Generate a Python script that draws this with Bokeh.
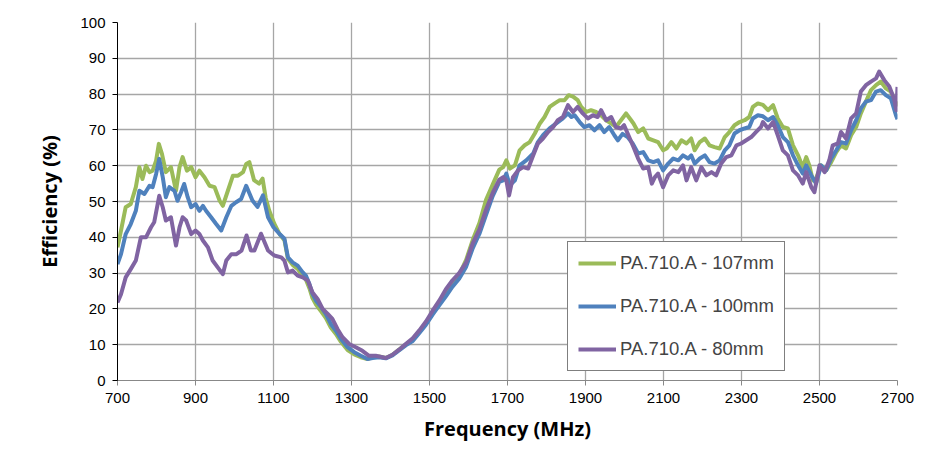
from bokeh.plotting import figure
from bokeh.models import Range1d, FixedTicker, Legend, LegendItem
from bokeh.embed import file_html
from bokeh.resources import INLINE

# ---- data ----
freq_107 = [700, 709, 721, 734, 747, 756, 764, 773, 782, 790, 799, 806, 814, 824, 837, 850, 859, 867, 878, 889,
            900, 910, 923, 936, 949, 962, 970, 983, 996, 1009, 1022, 1030, 1038, 1050, 1063, 1072, 1080, 1089, 1102, 1115,
            1128, 1137, 1149, 1162, 1175, 1183, 1192, 1200, 1209, 1222, 1234, 1247, 1260, 1273, 1290, 1307, 1324, 1341,
            1354, 1371, 1388, 1405, 1422, 1439, 1457, 1474, 1491, 1508, 1525, 1542, 1559, 1576, 1594, 1611, 1628, 1645,
            1662, 1679, 1689, 1697, 1706, 1719, 1731, 1744, 1757, 1770, 1783, 1795, 1808, 1821, 1834, 1846, 1857, 1868,
            1880, 1889, 1902, 1914, 1927, 1940, 1953, 1966, 1978, 1991, 2004, 2017, 2023, 2035, 2048, 2061, 2074, 2086,
            2099, 2108, 2120, 2133, 2146, 2159, 2171, 2180, 2193, 2206, 2218, 2231, 2244, 2257, 2269, 2282, 2295, 2308,
            2320, 2329, 2342, 2355, 2368, 2381, 2393, 2406, 2419, 2432, 2445, 2457, 2466, 2474, 2483, 2491, 2504, 2517,
            2530, 2543, 2555, 2568, 2581, 2594, 2606, 2619, 2632, 2645, 2657, 2670, 2683, 2696, 2700]
eff_107 = [37.2, 41.9, 48.4, 49.3, 54.0, 59.6, 56.3, 60.0, 58.2, 58.6, 61.4, 66.1, 63.3, 58.2, 59.6, 53.0, 59.6, 62.4, 58.6, 59.6,
           56.8, 58.6, 56.8, 54.4, 54.0, 50.2, 48.8, 53.0, 57.2, 57.2, 58.2, 60.5, 61.0, 56.0, 55.0, 56.4, 51.0, 47.5, 43.8, 41.0,
           39.2, 34.0, 32.3, 31.2, 29.2, 28.2, 25.8, 23.0, 21.2, 19.3, 17.5, 14.8, 13.0, 10.8, 8.5, 7.3, 6.5, 6.0,
           6.5, 6.7, 6.3, 7.2, 8.6, 10.0, 11.4, 13.7, 16.1, 18.9, 21.6, 24.4, 27.0, 29.5, 33.7, 39.3, 44.0, 50.5,
           54.7, 58.9, 59.6, 61.5, 59.2, 60.1, 64.3, 65.7, 66.6, 69.0, 71.8, 73.6, 76.4, 77.4, 78.3, 78.3, 79.7, 79.3,
           78.3, 76.4, 75.0, 75.5, 75.0, 74.1, 72.7, 71.8, 70.8, 72.7, 74.6, 72.7, 71.8, 69.4, 70.4, 67.6, 67.1, 66.6,
           64.3, 64.8, 66.6, 64.8, 67.1, 66.2, 67.6, 64.3, 66.6, 67.6, 65.7, 65.2, 64.8, 68.0, 69.4, 71.3, 72.2, 72.7,
           73.6, 76.4, 77.4, 77.0, 75.5, 76.9, 73.2, 70.8, 70.4, 65.7, 62.9, 59.6, 62.4, 60.1, 55.9, 56.4, 60.1, 58.7,
           61.0, 63.8, 65.7, 64.8, 68.5, 70.8, 74.6, 77.9, 81.1, 82.5, 83.5, 81.6, 80.7, 76.9, 78.0]

freq_100 = [700, 709, 721, 734, 747, 756, 769, 782, 790, 799, 807, 816, 824, 833, 846, 854, 863, 871, 880, 889,
            900, 910, 919, 927, 940, 953, 966, 979, 992, 1004, 1017, 1030, 1046, 1059, 1073, 1086, 1100, 1115,
            1128, 1137, 1149, 1162, 1175, 1183, 1192, 1200, 1209, 1222, 1234, 1247, 1260, 1273, 1290, 1307, 1324, 1341,
            1354, 1371, 1388, 1405, 1422, 1439, 1457, 1474, 1491, 1508, 1525, 1542, 1559, 1576, 1594, 1611, 1628, 1645,
            1662, 1679, 1689, 1697, 1706, 1719, 1731, 1748, 1766, 1778, 1791, 1808, 1825, 1842, 1855, 1864, 1872, 1885,
            1897, 1910, 1923, 1936, 1948, 1961, 1974, 1983, 1995, 2008, 2021, 2035, 2048, 2061, 2074, 2086, 2099, 2112,
            2125, 2138, 2150, 2163, 2171, 2180, 2193, 2206, 2218, 2231, 2244, 2257, 2269, 2282, 2295, 2308, 2320, 2329,
            2342, 2355, 2368, 2381, 2393, 2406, 2419, 2432, 2445, 2457, 2466, 2479, 2491, 2504, 2517, 2530, 2543, 2555,
            2568, 2581, 2594, 2606, 2619, 2632, 2645, 2657, 2670, 2683, 2696, 2700]
eff_100 = [32.5, 35.3, 40.9, 43.7, 47.4, 53.0, 52.1, 54.4, 54.0, 57.7, 61.9, 56.8, 51.2, 54.0, 53.0, 50.2, 52.6, 54.9, 51.2, 48.4,
           49.3, 47.4, 48.8, 47.4, 45.6, 43.7, 41.9, 45.6, 48.8, 49.8, 50.7, 54.4, 50.3, 48.5, 51.7, 45.6, 42.8, 41.0,
           39.6, 34.4, 33.0, 32.1, 30.2, 29.3, 27.0, 24.2, 22.3, 20.5, 18.6, 15.8, 13.9, 11.6, 9.3, 7.9, 6.9, 6.0,
           6.3, 6.5, 6.2, 7.0, 8.4, 9.8, 11.0, 13.3, 15.6, 18.4, 21.0, 23.5, 26.2, 28.4, 31.8, 37.0, 41.0, 46.3,
           51.5, 55.5, 55.9, 57.8, 54.5, 55.9, 60.1, 61.5, 63.4, 66.6, 68.5, 70.4, 71.8, 73.2, 74.6, 73.6, 74.1, 72.2,
           70.8, 71.3, 69.9, 71.3, 69.4, 70.8, 68.5, 67.1, 68.9, 68.0, 66.2, 63.4, 63.8, 61.5, 61.0, 61.5, 58.7, 60.6,
           62.0, 61.5, 62.9, 62.0, 62.9, 60.6, 62.0, 62.9, 61.0, 60.6, 61.5, 64.3, 65.7, 69.0, 69.9, 70.4, 70.8, 73.2,
           74.1, 73.8, 72.7, 73.6, 71.3, 68.0, 66.6, 62.9, 60.1, 57.8, 60.1, 57.3, 55.0, 60.1, 58.7, 62.0, 64.3, 66.6,
           66.2, 69.9, 72.7, 76.0, 77.9, 78.3, 80.7, 81.1, 79.7, 78.8, 74.1, 73.0]

freq_80 = [700, 709, 721, 734, 747, 760, 773, 786, 794, 803, 807, 816, 824, 837, 850, 859, 867, 876, 889,
           900, 910, 919, 932, 944, 957, 970, 979, 992, 1005, 1018, 1031, 1042, 1051, 1068, 1086, 1102, 1120,
           1128, 1137, 1149, 1162, 1175, 1188, 1200, 1213, 1226, 1239, 1251, 1264, 1277, 1294, 1311, 1328, 1345,
           1362, 1371, 1388, 1405, 1422, 1439, 1457, 1474, 1491, 1508, 1525, 1542, 1559, 1576, 1594, 1611, 1628,
           1645, 1662, 1679, 1689, 1697, 1704, 1714, 1727, 1740, 1753, 1766, 1778, 1791, 1804, 1817, 1829, 1842,
           1855, 1868, 1880, 1893, 1906, 1919, 1931, 1940, 1953, 1966, 1978, 1991, 1999, 2012, 2023, 2035, 2048,
           2061, 2070, 2078, 2086, 2099, 2112, 2125, 2138, 2150, 2159, 2171, 2184, 2197, 2210, 2223, 2235, 2248,
           2261, 2274, 2287, 2299, 2312, 2325, 2337, 2350, 2355, 2368, 2381, 2393, 2406, 2419, 2432, 2445, 2457,
           2466, 2479, 2487, 2500, 2513, 2525, 2534, 2547, 2555, 2568, 2581, 2594, 2606, 2619, 2632, 2645, 2653,
           2666, 2679, 2691, 2697, 2700]
eff_80 = [21.8, 24.1, 28.8, 31.1, 33.5, 40.0, 40.0, 42.8, 44.2, 49.3, 51.6, 48.4, 44.7, 45.6, 37.7, 42.8, 45.6, 44.7, 40.9,
          41.9, 40.9, 39.1, 37.2, 33.5, 31.6, 29.7, 33.5, 35.3, 35.3, 36.3, 40.5, 36.3, 36.3, 41.0, 36.3, 34.9, 34.4,
          33.5, 30.2, 30.7, 29.3, 28.8, 27.9, 24.6, 22.8, 20.0, 18.6, 17.2, 14.4, 12.1, 10.2, 9.3, 8.3, 6.9,
          6.9, 6.7, 6.3, 7.2, 8.6, 10.2, 11.8, 14.0, 16.5, 19.5, 22.3, 25.5, 28.0, 30.0, 33.0, 38.4, 42.2,
          47.7, 52.4, 56.1, 56.8, 55.9, 51.7, 56.8, 58.7, 59.6, 59.2, 62.9, 66.2, 67.6, 69.4, 70.8, 72.7, 73.6,
          76.9, 75.0, 76.4, 74.6, 73.2, 74.1, 73.6, 75.5, 72.7, 73.6, 70.8, 70.4, 71.3, 68.0, 65.2, 62.0, 59.2,
          59.6, 55.0, 56.8, 57.8, 54.0, 57.3, 58.7, 58.2, 60.1, 55.9, 59.6, 55.9, 59.6, 57.3, 58.2, 57.3, 60.6,
          62.4, 62.9, 65.7, 66.2, 67.1, 68.0, 69.4, 70.8, 72.2, 70.4, 72.2, 68.5, 64.3, 62.9, 58.7, 57.3, 55.0,
          58.2, 54.0, 52.6, 60.1, 58.2, 61.5, 65.7, 66.2, 69.4, 67.6, 73.2, 74.6, 80.7, 82.5, 83.5, 84.4, 86.3,
          83.9, 82.1, 78.8, 75.5, 82.0]

x_ticks = [700, 900, 1100, 1300, 1500, 1700, 1900, 2100, 2300, 2500, 2700]
y_ticks = [0, 10, 20, 30, 40, 50, 60, 70, 80, 90, 100]

series_labels = ["PA.710.A - 107mm", "PA.710.A - 100mm", "PA.710.A - 80mm"]
series_colors = ["#9BBB59", "#4F81BD", "#8064A2"]

TICK_FONT = "Liberation Sans"
LABEL_FONT = "Open Sans"

p = figure(width=929, height=448, output_backend="svg", toolbar_location=None,
           x_range=Range1d(700, 2700), y_range=Range1d(0, 100),
           min_border_left=117, min_border_right=32, min_border_top=22, min_border_bottom=68)
p.outline_line_color = None
p.background_fill_color = "white"

renderers = []
for fx, fy, lab, col in zip([freq_107, freq_100, freq_80], [eff_107, eff_100, eff_80], series_labels, series_colors):
    r = p.line(fx, fy, line_color=col, line_width=4, line_join="round")
    renderers.append((lab, r))

p.xaxis.ticker = FixedTicker(ticks=x_ticks)
p.yaxis.ticker = FixedTicker(ticks=y_ticks)
for g in (p.xgrid, p.ygrid):
    g.grid_line_color = "#A6A6A6"
    g.grid_line_width = 1.3

for ax in (p.xaxis, p.yaxis):
    ax.minor_tick_line_color = None
    ax.major_tick_in = 0
    ax.major_tick_out = 5
    ax.major_label_text_font = TICK_FONT
    ax.major_label_text_font_size = "15px"
    ax.major_label_text_color = "#000000"
    ax.axis_label_text_font = LABEL_FONT
    ax.axis_label_text_font_size = "20px"
    ax.axis_label_text_font_style = "bold"
    ax.axis_label_text_color = "#000000"

p.xaxis.axis_line_color = "#888888"
p.xaxis.major_tick_line_color = "#888888"
p.yaxis.axis_line_color = "#000000"
p.yaxis.major_tick_line_color = "#000000"
p.xaxis.axis_label = "Frequency (MHz)"
p.yaxis.axis_label = "Efficiency (%)"
p.xaxis.major_label_standoff = 7
p.yaxis.major_label_standoff = 7
p.xaxis.axis_label_standoff = 9
p.yaxis.axis_label_standoff = 14

legend = Legend(items=[LegendItem(label=l, renderers=[r]) for l, r in renderers],
                location=(450, 9), orientation="vertical",
                border_line_color="#000000", border_line_width=1,
                background_fill_color="white", background_fill_alpha=1.0,
                label_text_font="Liberation Sans", label_text_font_size="18.5px",
                glyph_width=38, glyph_height=20, label_height=20, spacing=21,
                label_standoff=4, padding=10, margin=0)
p.add_layout(legend, "center")

open("out.html", "w").write(file_html(p, INLINE))
